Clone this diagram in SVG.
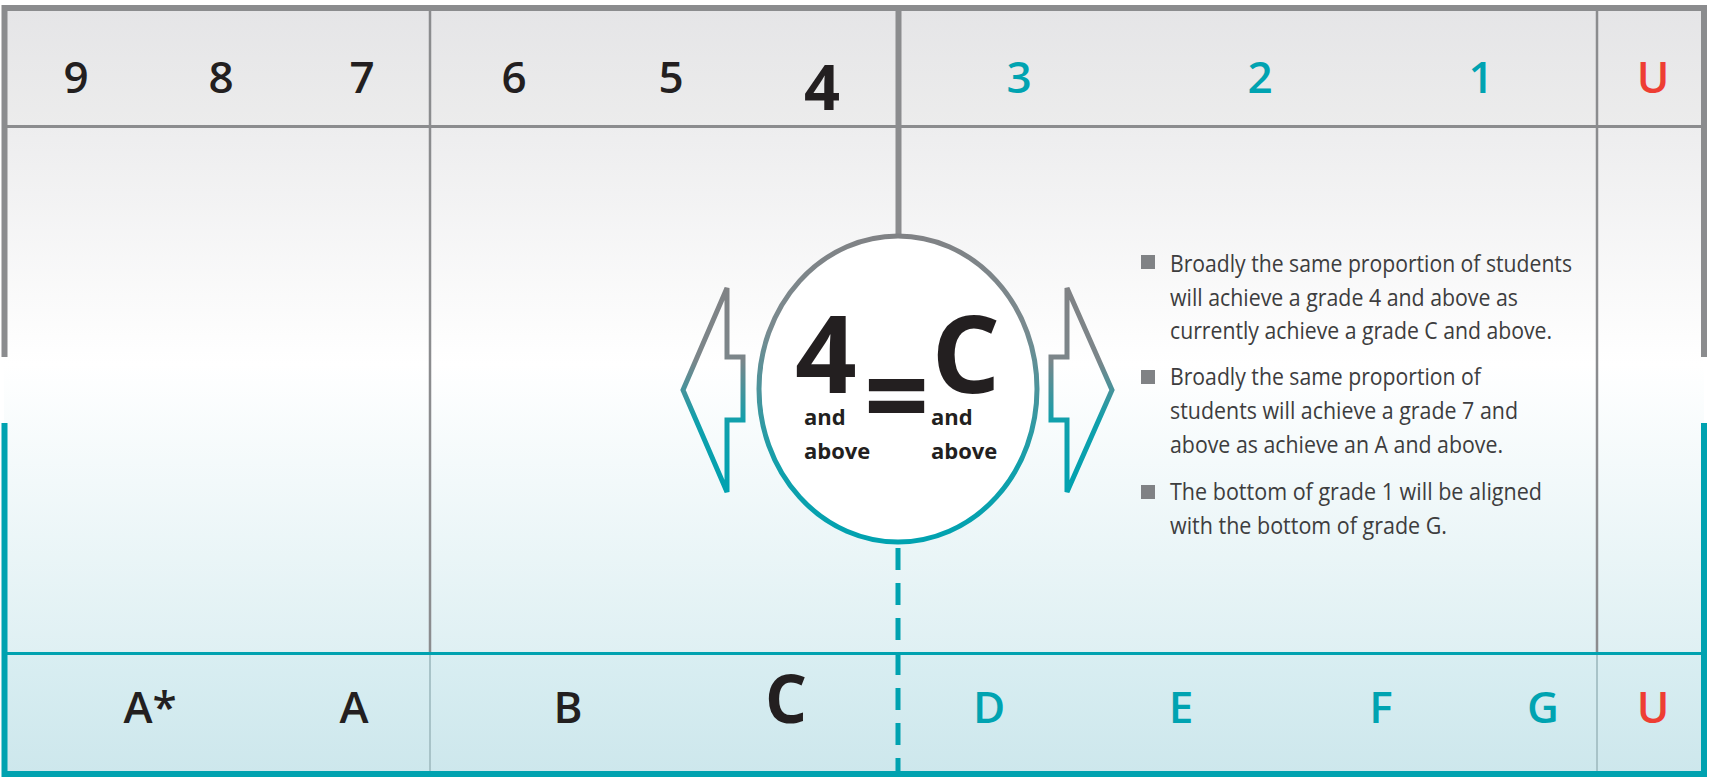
<svg xmlns="http://www.w3.org/2000/svg" width="1709" height="779" viewBox="0 0 1709 779">
<style>
  .num{font-family:"Open Sans","Noto Sans",sans-serif;font-weight:600;font-size:44px;text-anchor:middle}
  .big{font-family:"Open Sans","Noto Sans",sans-serif;font-weight:700;text-anchor:middle}
  .dark{fill:#231f20}
  .teal{fill:#00a3b1}
  .red{fill:#ee3e33}
  .sub{font-family:"Open Sans","Noto Sans",sans-serif;font-weight:700;font-size:22px;fill:#231f20}
  .bul{font-family:"Open Sans","Noto Sans",sans-serif;font-size:23px;fill:#3d3d3e}
  .sq{fill:#808285}
  .gline{stroke:#8b8c8e;fill:none}
  .tline{stroke:#00a2b0;fill:none}
</style>
<defs>
  <linearGradient id="hdr" x1="0" y1="0" x2="0" y2="1">
    <stop offset="0" stop-color="#e5e5e7"/>
    <stop offset="1" stop-color="#ececec"/>
  </linearGradient>
  <linearGradient id="body" x1="0" y1="0" x2="0" y2="1">
    <stop offset="0" stop-color="#ededee"/>
    <stop offset="0.45" stop-color="#ffffff"/>
    <stop offset="1" stop-color="#dff0f3"/>
  </linearGradient>
  <linearGradient id="band" x1="0" y1="0" x2="0" y2="1">
    <stop offset="0" stop-color="#d9eef2"/>
    <stop offset="1" stop-color="#cde7ec"/>
  </linearGradient>
  <linearGradient id="ring" gradientUnits="userSpaceOnUse" x1="0" y1="236" x2="0" y2="542">
    <stop offset="0" stop-color="#808285"/>
    <stop offset="0.3" stop-color="#7a8a8f"/>
    <stop offset="0.75" stop-color="#12a0ab"/>
    <stop offset="1" stop-color="#00a2b0"/>
  </linearGradient>
  <linearGradient id="arr" gradientUnits="userSpaceOnUse" x1="0" y1="288" x2="0" y2="492">
    <stop offset="0" stop-color="#808285"/>
    <stop offset="0.35" stop-color="#7c868a"/>
    <stop offset="0.65" stop-color="#10a0ac"/>
    <stop offset="1" stop-color="#00a2b0"/>
  </linearGradient>
</defs>

<g id="background">
  <rect x="4" y="8" width="1700" height="118" fill="url(#hdr)"/>
  <rect x="4" y="126" width="1700" height="528" fill="url(#body)"/>
  <rect x="4" y="654" width="1700" height="120" fill="url(#band)"/>
</g>

<g id="connectors">
  <line class="gline" x1="7" y1="126.5" x2="1701" y2="126.5" stroke-width="3"/>
  <line class="gline" x1="430" y1="11" x2="430" y2="652" stroke-width="2.5"/>
  <line x1="430" y1="655" x2="430" y2="771" stroke="#a8c3c8" stroke-width="2"/>
  <line class="gline" x1="1597" y1="11" x2="1597" y2="652" stroke-width="2.5"/>
  <line x1="1597" y1="655" x2="1597" y2="771" stroke="#a8c3c8" stroke-width="2"/>
  <line class="gline" x1="898.5" y1="11" x2="898.5" y2="236" stroke-width="6"/>
  <line class="tline" x1="898" y1="548" x2="898" y2="771" stroke-width="5" stroke-dasharray="22 13"/>
  <line class="tline" x1="7" y1="653.5" x2="1701" y2="653.5" stroke-width="3"/>
  <polyline class="gline" points="4.5,357 4.5,8 1704,8 1704,357" stroke="#808285" stroke-width="6"/>
  <polyline class="tline" points="4.5,423 4.5,774 1704,774 1704,423" stroke-width="6"/>
</g>

<g id="header-grades">
  <text class="num dark" x="76" y="93">9</text>
  <text class="num dark" x="221" y="93">8</text>
  <text class="num dark" x="362" y="93">7</text>
  <text class="num dark" x="514" y="93">6</text>
  <text class="num dark" x="671" y="93">5</text>
  <text class="big dark" x="822" y="110" font-size="63">4</text>
  <text class="num teal" x="1019" y="93">3</text>
  <text class="num teal" x="1260" y="93">2</text>
  <text class="num teal" x="1481" y="93">1</text>
  <text class="num red" x="1653" y="93">U</text>
</g>

<g id="band-grades">
  <text class="num dark" x="150" y="723" font-size="46">A*</text>
  <text class="num dark" x="354" y="723" font-size="46">A</text>
  <text class="num dark" x="568" y="723" font-size="46">B</text>
  <text class="big dark" x="786" y="723" font-size="66">C</text>
  <text class="num teal" x="989" y="723" font-size="46">D</text>
  <text class="num teal" x="1181" y="723" font-size="46">E</text>
  <text class="num teal" x="1381" y="723" font-size="46">F</text>
  <text class="num teal" x="1543" y="723" font-size="46">G</text>
  <text class="num red" x="1653" y="723" font-size="46">U</text>
</g>

<g id="arrow-left">
  <polygon points="727,288 727,357 743,357 743,420 727,420 727,492 683,390" fill="none" stroke="url(#arr)" stroke-width="5" stroke-linejoin="miter"/>
</g>
<g id="arrow-right">
  <polygon points="1067,288 1067,357 1051,357 1051,420 1067,420 1067,492 1112,390" fill="none" stroke="url(#arr)" stroke-width="5" stroke-linejoin="miter"/>
</g>

<g id="center-node">
  <ellipse cx="898" cy="389" rx="139" ry="153" fill="#ffffff" stroke="url(#ring)" stroke-width="5"/>
  <text class="big dark" x="826" y="393" font-size="108">4</text>
  <text class="big dark" x="896.5" y="436" font-size="114">=</text>
  <text class="big dark" x="966" y="393" font-size="108">C</text>
  <text class="sub" x="804" y="425">and</text>
  <text class="sub" x="804" y="459">above</text>
  <text class="sub" x="931" y="425">and</text>
  <text class="sub" x="931" y="459">above</text>
</g>

<g id="bullets">
  <rect class="sq" x="1141" y="255" width="14" height="14"/>
  <rect class="sq" x="1141" y="370" width="14" height="14"/>
  <rect class="sq" x="1141" y="485" width="14" height="14"/>
  <text class="bul" x="1170" y="272" textLength="402" lengthAdjust="spacingAndGlyphs">Broadly the same proportion of students</text>
  <text class="bul" x="1170" y="305.5" textLength="348" lengthAdjust="spacingAndGlyphs">will achieve a grade 4 and above as</text>
  <text class="bul" x="1170" y="339" textLength="382" lengthAdjust="spacingAndGlyphs">currently achieve a grade C and above.</text>
  <text class="bul" x="1170" y="385" textLength="311" lengthAdjust="spacingAndGlyphs">Broadly the same proportion of</text>
  <text class="bul" x="1170" y="419" textLength="348" lengthAdjust="spacingAndGlyphs">students will achieve a grade 7 and</text>
  <text class="bul" x="1170" y="453" textLength="333" lengthAdjust="spacingAndGlyphs">above as achieve an A and above.</text>
  <text class="bul" x="1170" y="500" textLength="372" lengthAdjust="spacingAndGlyphs">The bottom of grade 1 will be aligned</text>
  <text class="bul" x="1170" y="534" textLength="277" lengthAdjust="spacingAndGlyphs">with the bottom of grade G.</text>
</g>
</svg>
